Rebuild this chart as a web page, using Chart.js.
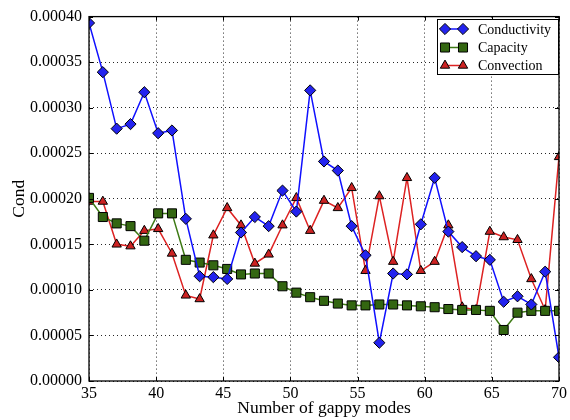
<!DOCTYPE html>
<html>
<head>
<meta charset="utf-8">
<script src="https://cdn.jsdelivr.net/npm/chart.js@4/dist/chart.umd.min.js"></script>
<style>
  html, body { margin: 0; padding: 0; background: #fff; }
  canvas { display: block; }
</style>
</head>
<body>
<canvas id="c" width="570" height="420"></canvas>
<script>
// Number of gappy modes (sample positions along x)
const modes = [35.00, 36.03, 37.06, 38.09, 39.12, 40.15, 41.18, 42.21, 43.24, 44.26,
               45.29, 46.32, 47.35, 48.38, 49.41, 50.44, 51.47, 52.50, 53.53, 54.56,
               55.59, 56.62, 57.65, 58.68, 59.71, 60.74, 61.76, 62.79, 63.82, 64.85,
               65.88, 66.91, 67.94, 68.97, 70.00];

const conductivity = [0.000393, 0.000339, 0.000277, 0.000282, 0.000317, 0.000272, 0.000275, 0.000178, 0.000115, 0.000114,
                      0.000112, 0.000163, 0.000180, 0.000170, 0.000209, 0.000186, 0.000319, 0.000241, 0.000231, 0.000170,
                      0.000138, 0.000042, 0.000118, 0.000117, 0.000172, 0.000223, 0.000164, 0.000147, 0.000137, 0.000133,
                      0.000087, 0.000093, 0.000084, 0.000120, 0.000026];

const capacity = [0.000201, 0.000180, 0.000173, 0.000170, 0.000154, 0.000184, 0.000184, 0.000133, 0.000130, 0.000127,
                  0.000123, 0.000117, 0.000118, 0.000118, 0.000104, 0.000097, 0.000092, 0.000088, 0.000085, 0.000083,
                  0.000083, 0.000084, 0.000084, 0.000083, 0.000082, 0.000081, 0.000079, 0.000078, 0.000078, 0.000077,
                  0.000056, 0.000075, 0.000077, 0.000077, 0.000077];

const convection = [0.000197, 0.000197, 0.000150, 0.000148, 0.000165, 0.000167, 0.000140, 0.000094, 0.000090, 0.000160,
                    0.000190, 0.000171, 0.000129, 0.000139, 0.000171, 0.000201, 0.000165, 0.000198, 0.000190, 0.000212,
                    0.000121, 0.000203, 0.000131, 0.000223, 0.000121, 0.000131, 0.000171, 0.000081, 0.000078, 0.000164,
                    0.000158, 0.000155, 0.000112, 0.000078, 0.000246];

const seriesNames = ['Conductivity', 'Capacity', 'Convection'];
const xTicks = [35, 40, 45, 50, 55, 60, 65, 70];
const yTicks = [0, 0.00005, 0.0001, 0.00015, 0.0002, 0.00025, 0.0003, 0.00035, 0.0004];

const SERIF = '"Liberation Serif", "DejaVu Serif", serif';

const styles = [
  { line: '#1010ff', fill: '#2323ee', point: 'rectRot', radius: 5.6 },
  { line: '#3d7a14', fill: '#336611', point: 'rect',    radius: 6.4 },
  { line: '#dd2222', fill: '#cc2222', point: 'triangle', radius: 5.4 }
];

const pts = vals => vals.map((v, i) => ({ x: modes[i], y: v }));

const datasets = [conductivity, capacity, convection].map((vals, k) => ({
  label: seriesNames[k],
  data: pts(vals),
  borderColor: styles[k].line,
  borderWidth: 1.5,
  backgroundColor: styles[k].fill,
  pointStyle: styles[k].point,
  pointRadius: styles[k].radius,
  pointHoverRadius: styles[k].radius,
  pointBackgroundColor: styles[k].fill,
  pointBorderColor: '#000',
  pointBorderWidth: 1,
  tension: 0,
  fill: false
}));

// Marker path shared by the legend, following Chart.js point geometry
function markerPath(ctx, style, r, x, y) {
  ctx.beginPath();
  if (style === 'rectRot') {
    ctx.moveTo(x, y - r); ctx.lineTo(x + r, y); ctx.lineTo(x, y + r); ctx.lineTo(x - r, y);
  } else if (style === 'rect') {
    const s = Math.SQRT1_2 * r;
    ctx.rect(x - s, y - s, 2 * s, 2 * s);
  } else {
    ctx.moveTo(x, y - r);
    ctx.lineTo(x + r * Math.sin(2 * Math.PI / 3), y - r * Math.cos(2 * Math.PI / 3));
    ctx.lineTo(x + r * Math.sin(4 * Math.PI / 3), y - r * Math.cos(4 * Math.PI / 3));
  }
  ctx.closePath();
}

// Frame, inward tick marks and the boxed legend
const decorations = {
  id: 'decorations',
  afterDatasetsDraw(chart) {
    const { ctx, chartArea: a, scales } = chart;
    ctx.save();
    ctx.strokeStyle = '#000';
    ctx.lineWidth = 1;
    ctx.beginPath();
    xTicks.forEach(v => {
      const px = Math.round(scales.x.getPixelForValue(v)) + 0.5;
      ctx.moveTo(px, a.bottom); ctx.lineTo(px, a.bottom - 4);
      ctx.moveTo(px, a.top); ctx.lineTo(px, a.top + 4);
    });
    yTicks.forEach(v => {
      const py = Math.round(scales.y.getPixelForValue(v)) + 0.5;
      ctx.moveTo(a.left, py); ctx.lineTo(a.left + 4, py);
      ctx.moveTo(a.right, py); ctx.lineTo(a.right - 4, py);
    });
    ctx.stroke();
    ctx.lineWidth = 1.3;
    ctx.strokeRect(a.left, a.top, a.right - a.left, a.bottom - a.top);

    // legend box
    const bx = 437, by = 19.5, bw = 121, bh = 55;
    ctx.fillStyle = '#fff';
    ctx.fillRect(bx, by, bw, bh);
    ctx.lineWidth = 1;
    ctx.strokeStyle = '#000';
    ctx.strokeRect(bx + 0.5, by, bw, bh);
    const rows = [29, 47.5, 65.5];
    ctx.font = '14px ' + SERIF;
    ctx.textBaseline = 'middle';
    ctx.textAlign = 'left';
    seriesNames.forEach((name, k) => {
      const y = rows[k], x1 = 445, x2 = 463;
      ctx.strokeStyle = styles[k].line;
      ctx.lineWidth = 1.5;
      ctx.beginPath(); ctx.moveTo(x1, y); ctx.lineTo(x2, y); ctx.stroke();
      [x1, x2].forEach(px => {
        markerPath(ctx, styles[k].point, styles[k].radius, px, y);
        ctx.fillStyle = styles[k].fill;
        ctx.fill();
        ctx.strokeStyle = '#000';
        ctx.lineWidth = 1;
        ctx.stroke();
      });
      ctx.fillStyle = '#000';
      ctx.fillText(name, 478, y + 1);
    });
    ctx.restore();
  }
};

new Chart(document.getElementById('c'), {
  type: 'line',
  data: { datasets },
  options: {
    responsive: false,
    animation: false,
    events: [],
    layout: { padding: { top: 13, right: 5, left: 0, bottom: 0 } },
    plugins: { legend: { display: false }, tooltip: { enabled: false } },
    scales: {
      x: {
        type: 'linear',
        min: 35, max: 70,
        afterBuildTicks: s => { s.ticks = xTicks.map(v => ({ value: v })); },
        afterFit: s => { s.height = 39; },
        ticks: {
          color: '#000', padding: 3, maxRotation: 0, autoSkip: false,
          font: { family: SERIF, size: 16 },
          callback: v => String(v)
        },
        grid: { color: 'rgba(0,0,0,0.85)', lineWidth: 1, drawTicks: false },
        border: { display: false, dash: [1, 3] },
        title: {
          display: true, text: 'Number of gappy modes', color: '#000',
          font: { family: SERIF, size: 17.5 }, padding: { top: 0, bottom: 1.5 }
        }
      },
      y: {
        type: 'linear',
        min: 0, max: 0.0004,
        afterBuildTicks: s => { s.ticks = yTicks.map(v => ({ value: v })); },
        afterFit: s => { s.width = 89; },
        ticks: {
          color: '#000', padding: 7, autoSkip: false,
          font: { family: SERIF, size: 16 },
          callback: v => Number(v).toFixed(5)
        },
        grid: { color: 'rgba(0,0,0,0.85)', lineWidth: 1, drawTicks: false },
        border: { display: false, dash: [1, 3] },
        title: {
          display: true, text: 'Cond', color: '#000',
          font: { family: SERIF, size: 17.5 }, padding: { top: 9, bottom: 0 }
        }
      }
    }
  },
  plugins: [decorations]
});
</script>
</body>
</html>
